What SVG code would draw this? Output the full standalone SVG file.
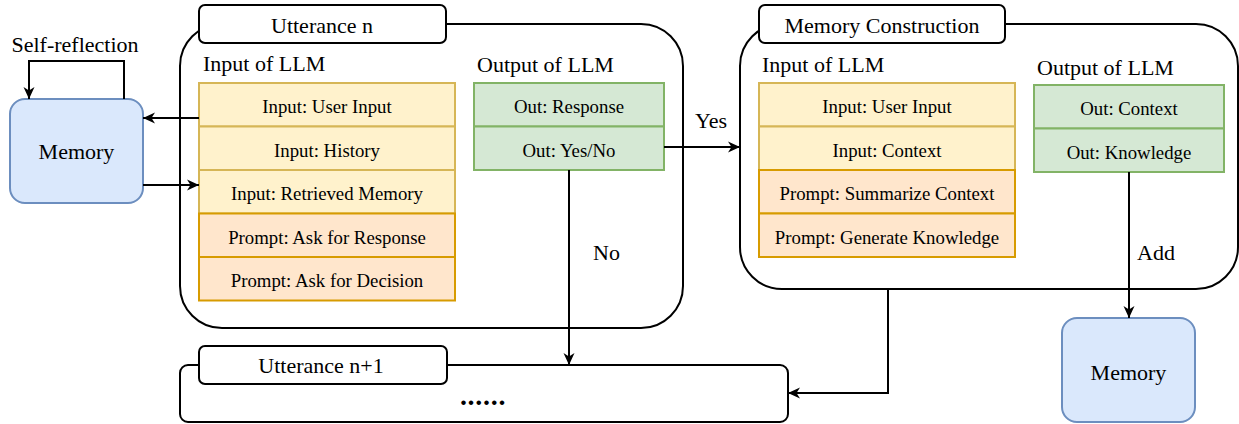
<svg xmlns="http://www.w3.org/2000/svg" width="1239" height="424" viewBox="0 0 1239 424" font-family="'Liberation Serif', 'DejaVu Serif', serif">
<defs>
<style>
text{font-family:'Liberation Serif','DejaVu Serif',serif;fill:#000}
.big{font-size:22px}
.row{font-size:18.8px;text-anchor:middle}
.mid{text-anchor:middle}
.frame{fill:#fff;stroke:#000;stroke-width:2}
.tab{fill:#fff;stroke:#000;stroke-width:2}
.yel{fill:#fff2cc;stroke:#d6b656;stroke-width:2}
.org{fill:#ffe6cc;stroke:#d79b00;stroke-width:2}
.grn{fill:#d5e8d4;stroke:#82b366;stroke-width:2}
.mem{fill:#dae8fc;stroke:#6c8ebf;stroke-width:2}
.conn{fill:none;stroke:#000;stroke-width:2;marker-end:url(#arr)}
.dots{font-size:28px;font-weight:bold;letter-spacing:0.7px;text-anchor:middle}
</style>
<marker id="arr" markerUnits="userSpaceOnUse" markerWidth="13" markerHeight="12" refX="12" refY="6" orient="auto">
<path d="M0,0.5 L12,6 L0,11.5 L3.5,6 Z" fill="#000"/>
</marker>
</defs>
<rect width="1239" height="424" fill="#fff"/>

<g id="utterance-n">
<rect class="frame" x="180" y="24" width="503" height="304" rx="42"/>
<rect class="tab" x="199" y="5" width="247" height="38" rx="6"/>
<text class="big mid" x="322" y="33">Utterance n</text>
<text class="big" x="203" y="71">Input of LLM</text>
<text class="big" x="477" y="72">Output of LLM</text>
</g>

<g id="utt-input-stack">
<rect class="yel" x="199" y="83" width="256" height="43.5"/>
<text class="row" x="327" y="113">Input: User Input</text>
<rect class="yel" x="199" y="126.5" width="256" height="43.5"/>
<text class="row" x="327" y="156.5">Input: History</text>
<rect class="yel" x="199" y="170" width="256" height="43.5"/>
<text class="row" x="327" y="200">Input: Retrieved Memory</text>
<rect class="org" x="199" y="213.5" width="256" height="43.5"/>
<text class="row" x="327" y="243.5">Prompt: Ask for Response</text>
<rect class="org" x="199" y="257" width="256" height="43.5"/>
<text class="row" x="327" y="287">Prompt: Ask for Decision</text>
</g>

<g id="utt-output-stack">
<rect class="grn" x="474" y="83" width="190" height="43.5"/>
<text class="row" x="569" y="113">Out: Response</text>
<rect class="grn" x="474" y="126.5" width="190" height="43.5"/>
<text class="row" x="569" y="156.5">Out: Yes/No</text>
</g>

<g id="memory-construction">
<rect class="frame" x="740" y="24" width="498" height="265" rx="42"/>
<rect class="tab" x="759" y="5" width="246" height="38" rx="6"/>
<text class="big mid" x="882" y="33">Memory Construction</text>
<text class="big" x="762" y="72">Input of LLM</text>
<text class="big" x="1037" y="75">Output of LLM</text>
</g>

<g id="mc-input-stack">
<rect class="yel" x="759" y="83" width="256" height="43.5"/>
<text class="row" x="887" y="113">Input: User Input</text>
<rect class="yel" x="759" y="126.5" width="256" height="43.5"/>
<text class="row" x="887" y="156.5">Input: Context</text>
<rect class="org" x="759" y="170" width="256" height="43.5"/>
<text class="row" x="887" y="200">Prompt: Summarize Context</text>
<rect class="org" x="759" y="213.5" width="256" height="43.5"/>
<text class="row" x="887" y="243.5">Prompt: Generate Knowledge</text>
</g>

<g id="mc-output-stack">
<rect class="grn" x="1034" y="85" width="190" height="43.5"/>
<text class="row" x="1129" y="115">Out: Context</text>
<rect class="grn" x="1034" y="128.5" width="190" height="43.5"/>
<text class="row" x="1129" y="158.5">Out: Knowledge</text>
</g>

<g id="utterance-n1">
<rect class="frame" x="180" y="365" width="608" height="57" rx="8"/>
<rect class="tab" x="199" y="346" width="248" height="38" rx="6"/>
<text class="big mid" x="321" y="373">Utterance n+1</text>
<text class="dots" x="483" y="405">......</text>
</g>

<g id="memory-left">
<rect class="mem" x="10" y="99" width="133" height="104" rx="15"/>
<text class="big mid" x="76.5" y="159">Memory</text>
</g>

<g id="memory-right">
<rect class="mem" x="1062" y="318" width="133" height="104" rx="15"/>
<text class="big mid" x="1128.5" y="380">Memory</text>
</g>

<g id="connectors">
<path class="conn" d="M124,99 V61 H29 V99"/>
<path class="conn" d="M199,118 H143"/>
<path class="conn" d="M143,185 H199"/>
<path class="conn" d="M664,147 H740"/>
<path class="conn" d="M569,170 V365"/>
<path class="conn" d="M1129,172 V318"/>
<path class="conn" d="M888,289 V393 H788"/>
<text class="big mid" x="75" y="52">Self-reflection</text>
<text class="big" x="695" y="128">Yes</text>
<text class="big" x="593" y="260">No</text>
<text class="big" x="1137" y="260">Add</text>
</g>
</svg>
